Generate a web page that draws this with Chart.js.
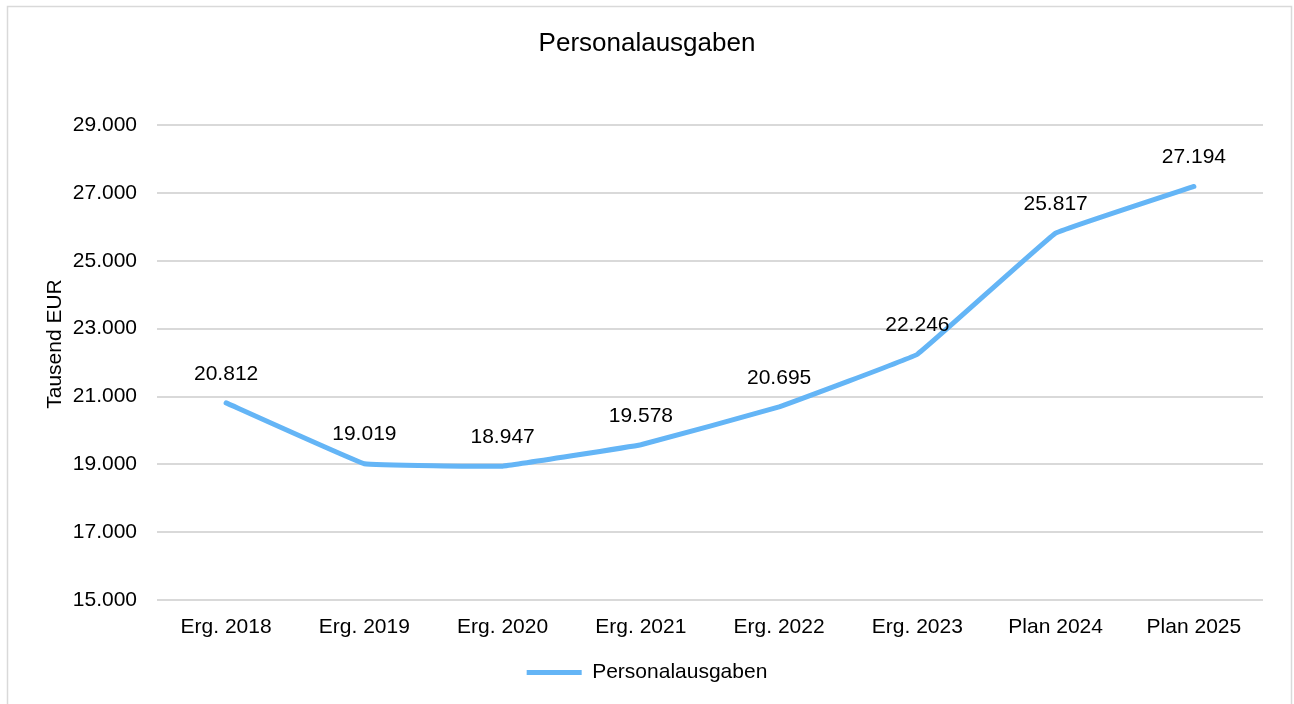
<!DOCTYPE html>
<html><head><meta charset="utf-8">
<script src="https://cdn.jsdelivr.net/npm/chart.js@4.4.1/dist/chart.umd.min.js"></script>
<style>html,body{margin:0;padding:0;background:#fff;}#wrap{width:1294px;height:704px;position:relative;}</style>
</head><body><div id="wrap"><canvas id="c" width="1294" height="704"></canvas></div>
<script>
const categories = ["Erg. 2018","Erg. 2019","Erg. 2020","Erg. 2021","Erg. 2022","Erg. 2023","Plan 2024","Plan 2025"];
const personalausgaben = [20812, 19019, 18947, 19578, 20695, 22246, 25817, 27194];
const yMin = 15000, yMax = 29000, yStep = 2000;
const yTitle = 'Tausend EUR';
const FONT = "'Liberation Sans', Arial, sans-serif";
const LINE = "#64B5F6";
const fmt = v => v.toLocaleString('de-DE');

const frame = {
  id:'frame',
  beforeDraw(chart){
    const ctx = chart.ctx; ctx.save();
    ctx.fillStyle='#fff'; ctx.fillRect(0,0,chart.width,chart.height);
    ctx.strokeStyle='#d9d9d9'; ctx.lineWidth=1.5;
    ctx.strokeRect(7.5,6.5,1284,705);
    ctx.restore();
  },
  afterDraw(chart){
    const ctx = chart.ctx; ctx.save();
    ctx.font = "21px " + FONT; ctx.fillStyle='#000'; ctx.textAlign='center'; ctx.textBaseline='middle';
    ctx.translate(55, 344); ctx.rotate(-Math.PI/2);
    ctx.fillText(yTitle, 0, 0);
    ctx.restore();
  }
};
const labels = {
  id:'labels',
  afterDatasetsDraw(chart){
    const ctx = chart.ctx; ctx.save();
    ctx.font = "21px " + FONT; ctx.fillStyle='#000'; ctx.textAlign='center'; ctx.textBaseline='middle';
    chart.getDatasetMeta(0).data.forEach((p,i)=>{
      ctx.fillText(fmt(chart.data.datasets[0].data[i]), p.x, p.y - 29);
    });
    ctx.restore();
  }
};

new Chart(document.getElementById('c'), {
  type:'line',
  data:{labels:categories, datasets:[{label:'Personalausgaben', data:personalausgaben, borderColor:LINE, backgroundColor:LINE, borderWidth:5, pointRadius:0, tension:0.05, borderCapStyle:'round', borderJoinStyle:'round'}]},
  options:{
    responsive:false, animation:false, devicePixelRatio:1,
    layout:{padding:{left:0,right:0,top:18,bottom:11}},
    plugins:{
      title:{display:true, text:'Personalausgaben', color:'#000', font:{family:FONT,size:26,weight:'normal'}, padding:{top:10,bottom:66}},
      legend:{position:'bottom', labels:{color:'#000', font:{family:FONT,size:21}, boxWidth:55, boxHeight:5, padding:14,
        generateLabels(chart){ return [{text:'Personalausgaben', fillStyle:LINE, strokeStyle:LINE, lineWidth:0, datasetIndex:0}]; }}},
      tooltip:{enabled:false}
    },
    scales:{
      x:{offset:true, afterFit(s){s.height=48;}, grid:{display:false, drawTicks:false, offset:true}, border:{display:false}, ticks:{color:'#000', font:{family:FONT,size:21}, padding:15, maxRotation:0}},
      y:{min:yMin, max:yMax, afterFit(s){s.width=157;}, afterBuildTicks(s){const t=[];for(let v=yMin;v<=yMax;v+=yStep)t.push({value:v});s.ticks=t;},
        grid:{color:'#d9d9d9', lineWidth:2, drawTicks:false}, border:{display:false},
        ticks:{color:'#000', font:{family:FONT,size:21}, padding:20, callback:v=>fmt(v)}},
      yR:{position:'right', display:true, min:yMin, max:yMax, afterFit(s){s.width=31;}, grid:{display:false, drawTicks:false}, border:{display:false}, ticks:{display:false}}
    }
  },
  plugins:[frame, labels]
});
</script></body></html>
